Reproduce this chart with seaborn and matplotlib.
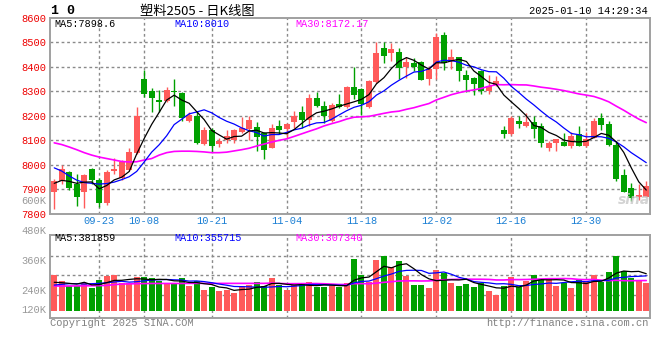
import matplotlib
matplotlib.use("Agg")
import matplotlib.pyplot as plt
import numpy as np
import pandas as pd
import seaborn as sns

sns.set_theme(style="white")
plt.rcParams["font.family"] = ["Liberation Mono", "DejaVu Sans Mono"]

# date ticks (index of the trading day in the window)
tick_pos = [6, 12, 21, 31, 41, 51, 61, 71]
tick_labels = ["09-23", "10-08", "10-21", "11-04", "11-18", "12-02", "12-16", "12-30"]

# daily K-line
opens = [7890, 7935, 7972, 7924, 7890, 7983, 7938, 7843, 7977, 7945,
         7979, 8050, 8350, 8301, 8265, 8261, 8302, 8294, 8179, 8200,
         8085, 8143, 8086, 8100, 8103, 8136, 8145, 8155, 8130, 8070,
         8158, 8147, 8173, 8217, 8183, 8272, 8240, 8180, 8248, 8237,
         8319, 8310, 8235, 8336, 8477, 8458, 8460, 8400, 8416, 8418,
         8352, 8390, 8530, 8424, 8438, 8367, 8355, 8384, 8302, 8325,
         8142, 8127, 8178, 8157, 8173, 8158, 8070, 8088, 8094, 8078,
         8125, 8078, 8111, 8190, 8167, 8081, 7958, 7907, 7870, 7870]
closes = [7935, 7983, 7904, 7870, 7958, 7938, 7843, 7972, 7984, 8013,
          8054, 8199, 8288, 8272, 8258, 8305, 8298, 8190, 8205, 8088,
          8143, 8078, 8098, 8118, 8142, 8150, 8183, 8115, 8060, 8150,
          8143, 8167, 8200, 8183, 8272, 8240, 8200, 8245, 8237, 8319,
          8285, 8250, 8343, 8456, 8445, 8472, 8394, 8420, 8400, 8348,
          8392, 8523, 8416, 8441, 8381, 8347, 8329, 8302, 8322, 8342,
          8128, 8190, 8167, 8173, 8145, 8088, 8090, 8104, 8078, 8118,
          8078, 8104, 8179, 8163, 8081, 7942, 7890, 7866, 7877, 7913]
highs = [7942, 7999, 7976, 7965, 7962, 7986, 7945, 7981, 8030, 8020,
         8067, 8237, 8387, 8315, 8305, 8316, 8352, 8298, 8215, 8220,
         8155, 8150, 8108, 8143, 8148, 8195, 8200, 8175, 8135, 8168,
         8183, 8170, 8218, 8240, 8290, 8299, 8260, 8252, 8289, 8322,
         8398, 8315, 8347, 8499, 8502, 8498, 8476, 8440, 8436, 8425,
         8405, 8537, 8540, 8474, 8440, 8385, 8357, 8386, 8365, 8363,
         8160, 8200, 8200, 8210, 8200, 8170, 8097, 8106, 8132, 8133,
         8158, 8135, 8190, 8210, 8179, 8097, 7983, 7925, 7924, 7935]
lows = [7822, 7924, 7898, 7833, 7826, 7924, 7830, 7836, 7965, 7940,
        7975, 8045, 8278, 8215, 8217, 8258, 8242, 8180, 8175, 8085,
        8080, 8054, 8075, 8090, 8090, 8132, 8102, 8058, 8026, 8068,
        8125, 8108, 8150, 8150, 8158, 8236, 8170, 8176, 8232, 8233,
        8270, 8203, 8233, 8333, 8416, 8424, 8352, 8356, 8382, 8345,
        8327, 8352, 8388, 8390, 8343, 8296, 8287, 8290, 8289, 8320,
        8110, 8120, 8152, 8155, 8108, 8074, 8056, 8058, 8076, 8067,
        8076, 8074, 8108, 8142, 8078, 7935, 7888, 7852, 7859, 7868]
# volume in thousands of lots
volumes = [364, 303, 252, 252, 279, 235, 313, 354, 364, 286,
           279, 347, 340, 330, 306, 269, 279, 330, 255, 303,
           211, 238, 201, 211, 177, 252, 259, 293, 252, 330,
           262, 211, 259, 272, 293, 245, 245, 252, 245, 286,
           527, 364, 296, 517, 561, 449, 510, 357, 262, 262,
           235, 415, 381, 286, 252, 272, 245, 286, 204, 160,
           255, 347, 245, 303, 364, 323, 337, 255, 286, 235,
           313, 296, 364, 296, 398, 561, 405, 330, 313, 279]

# moving-average values before enough days exist in the window
ma5_head = [7925, 7937, 7933, 7925]
ma10_head = [7988, 7975, 7955, 7938, 7928, 7925, 7922, 7924, 7930]
ma30_head = [8090, 8083, 8073, 8062, 8050, 8040, 8032, 8026, 8020, 8014,
             8012, 8013, 8020, 8026, 8040, 8050, 8055, 8056, 8056, 8055,
             8053, 8050, 8050, 8052, 8057, 8062, 8068, 8077, 8085]
vma5_head = [290, 286, 279, 272]
vma10_head = [262, 269, 276, 276, 272, 276, 279, 286, 293]
vma30_head = [252, 252, 252, 253, 254, 255, 256, 258, 266, 272,
              274, 276, 277, 278, 278, 278, 278, 278, 279, 279,
              279, 279, 279, 279, 279, 279, 279, 279, 279]

df = pd.DataFrame({"open": opens, "close": closes, "high": highs,
                   "low": lows, "volume": volumes})
df["i"] = np.arange(len(df))
df["dir"] = np.where(df["close"] >= df["open"], "up", "down")


def moving(series, n, head):
    vals = series.rolling(n).mean().to_numpy()
    vals[:n - 1] = head
    return vals


df["ma5"] = moving(df["close"], 5, ma5_head)
df["ma10"] = moving(df["close"], 10, ma10_head)
df["ma30"] = moving(df["close"], 30, ma30_head)
df["vma5"] = moving(df["volume"], 5, vma5_head)
df["vma10"] = moving(df["volume"], 10, vma10_head)
df["vma30"] = moving(df["volume"], 30, vma30_head)

RED = "#FF5A5A"
GREEN = "#00A000"
BORDER = "#A0A0A0"
TICKBLUE = "#1A7FD4"
palette = {"up": RED, "down": GREEN}
colors = df["dir"].map(palette)

W, H = 660, 360
fig = plt.figure(figsize=(6.6, 3.6), dpi=100)


def box(x0, y0, x1, y1):
    return [x0 / W, 1 - y1 / H, (x1 - x0) / W, (y1 - y0) / H]


ax = fig.add_axes(box(50.5, 17.7, 650, 214))
axv = fig.add_axes(box(50.5, 235, 650, 318.3))

price_grid = list(range(7900, 8600, 100))
vol_grid = [157, 361, 561]
dotted = dict(color="#8A8A8A", linestyle=(0, (2, 2)), linewidth=1.0, zorder=2)

# dotted grid
for yv in price_grid:
    ax.axhline(yv, **dotted)
for xv in tick_pos:
    ax.axvline(xv, **dotted)
    axv.axvline(xv, **dotted)
for yv in vol_grid:
    axv.axhline(yv, **dotted)

# candles
ax.vlines(df["i"], df["low"], df["high"], colors=colors, linewidth=1, zorder=3)
body_lo = np.minimum(df["open"], df["close"])
body_h = np.maximum((df["close"] - df["open"]).abs(), 4)
ax.bar(df["i"], body_h, bottom=body_lo, width=0.8, color=colors, linewidth=0, zorder=3)

sns.lineplot(data=df, x="i", y="ma30", ax=ax, color="#FF00FF", linewidth=1.2, zorder=4)
sns.lineplot(data=df, x="i", y="ma10", ax=ax, color="#0000FF", linewidth=0.9, zorder=4)
sns.lineplot(data=df, x="i", y="ma5", ax=ax, color="black", linewidth=0.9, zorder=4)

ax.set_xlim(-0.5, len(df) - 0.5)
ax.set_ylim(7800, 8600)
ax.set_yticks(range(7800, 8601, 100))
ax.set_yticklabels([str(v) for v in range(7800, 8601, 100)], color="#EE0000", fontsize=7.5)
ax.set_xticks(tick_pos)
ax.set_xticklabels(tick_labels, color=TICKBLUE, fontsize=7.5)
ax.tick_params(axis="both", length=0)
ax.tick_params(axis="y", pad=3.2)
ax.tick_params(axis="x", pad=1.5)
ax.set_xlabel("")
ax.set_ylabel("")

# volume
sns.barplot(data=df, x="i", y="volume", hue="dir", palette=palette, native_scale=True,
            width=0.8, dodge=False, errorbar=None, saturation=1, legend=False,
            linewidth=0, ax=axv, zorder=3)
sns.lineplot(data=df, x="i", y="vma30", ax=axv, color="#FF00FF", linewidth=1.2, zorder=4)
sns.lineplot(data=df, x="i", y="vma10", ax=axv, color="#0000FF", linewidth=0.9, zorder=4)
sns.lineplot(data=df, x="i", y="vma5", ax=axv, color="black", linewidth=0.9, zorder=4)

axv.set_xlim(-0.5, len(df) - 0.5)
axv.set_ylim(-77, 772)
axv.set_yticks([])
axv.set_xticks([])
axv.set_xlabel("")
axv.set_ylabel("")

for a in (ax, axv):
    for s in a.spines.values():
        s.set_color(BORDER)
        s.set_linewidth(1.4)

vol_labels = [("480K", 813), ("360K", 502), ("240K", 204), ("120K", 7)]
for txt, yv in vol_labels:
    axv.text(-0.007, yv, txt, transform=axv.get_yaxis_transform(), ha="right",
             va="center", color="#999999", fontsize=7.5, clip_on=False)


def ftext(x, y, s, **kw):
    fig.text(x / W, 1 - y / H, s, **kw)


ftext(51, 11, "1 0", fontsize=9.5, fontweight="bold", va="center", color="black")
ftext(140, 11, "塑料2505 - 日K线图", fontsize=9.5, va="center", color="black",
      family=["Noto Sans CJK SC", "DejaVu Sans"])
ftext(648, 11.5, "2025-01-10 14:29:34", fontsize=7.5, va="center", ha="right", color="black")

ftext(54, 24, "MA5:7898.6", fontsize=7.3, va="center", color="black")
ftext(174, 24, "MA10:8010", fontsize=7.3, va="center", color="#0000FF")
ftext(295, 24, "MA30:8172.17", fontsize=7.3, va="center", color="#FF00FF")

ftext(54, 238, "MA5:381859", fontsize=7.3, va="center", color="black")
ftext(174, 238, "MA10:355715", fontsize=7.3, va="center", color="#0000FF")
ftext(295, 238, "MA30:307340", fontsize=7.3, va="center", color="#FF00FF")

ftext(46, 200.5, "600K", fontsize=7.5, va="center", ha="right", color="#999999")
ftext(634, 200, "sina", fontsize=10, va="center", ha="center", color="#C8C8C8",
      fontstyle="italic", fontweight="bold", family=["DejaVu Sans"], alpha=0.8)

ftext(50, 323.5, "Copyright 2025 SINA.COM", fontsize=7.5, va="center", color="#808080")
ftext(649, 323.5, "http://finance.sina.com.cn", fontsize=7.5, va="center", ha="right",
      color="#808080")

fig.savefig("out.png", dpi=100)
